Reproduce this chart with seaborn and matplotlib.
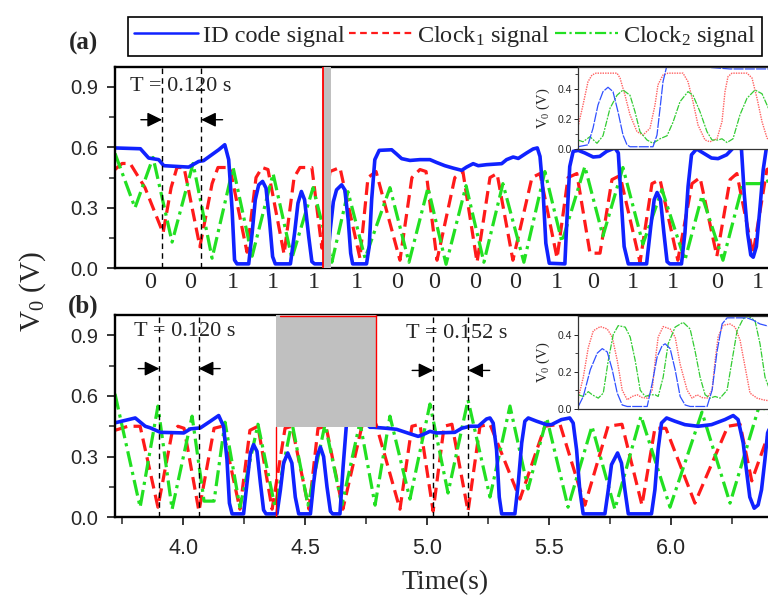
import numpy as np
import pandas as pd
import matplotlib
matplotlib.use("Agg")
import matplotlib.pyplot as plt
import seaborn as sns
from matplotlib.lines import Line2D
from matplotlib.patches import Rectangle

# ---------------- data (time in s, voltage in V) ----------------
# panel (a)
a_id_t = [3.720, 3.824, 3.858, 3.899, 3.920, 4.022, 4.063, 4.083, 4.145, 4.170, 4.186, 4.200, 4.210, 4.220,
          4.268, 4.282, 4.295, 4.309, 4.325, 4.339, 4.353, 4.366, 4.377, 4.439, 4.456, 4.470, 4.484, 4.497,
          4.514, 4.527, 4.538, 4.590, 4.603, 4.615, 4.628, 4.649, 4.662, 4.676, 4.686, 4.694, 4.751, 4.762,
          4.772, 4.785, 4.803, 4.854, 4.874, 4.895, 4.929, 4.970, 5.011, 5.038, 5.072, 5.106, 5.141, 5.161,
          5.188, 5.209, 5.243, 5.305, 5.325, 5.352, 5.373, 5.407, 5.434, 5.451, 5.462, 5.475, 5.486, 5.500,
          5.564, 5.571, 5.584, 5.598, 5.619, 5.646, 5.680, 5.707, 5.735, 5.769, 5.783, 5.793, 5.807, 5.824,
          5.899, 5.916, 5.930, 5.942, 5.956, 5.970, 5.983, 5.994, 6.042, 6.056, 6.069, 6.083, 6.104, 6.131,
          6.165, 6.192, 6.227, 6.254, 6.274, 6.288, 6.299, 6.313, 6.326, 6.336, 6.349, 6.363, 6.377, 6.390, 6.413]
a_id_v = [0.597, 0.593, 0.547, 0.539, 0.509, 0.502, 0.530, 0.534, 0.588, 0.613, 0.539, 0.290, 0.041, 0.022,
          0.022, 0.174, 0.340, 0.414, 0.431, 0.398, 0.240, 0.058, 0.022, 0.022, 0.174, 0.323, 0.381, 0.340,
          0.157, 0.033, 0.022, 0.022, 0.200, 0.330, 0.389, 0.414, 0.389, 0.240, 0.075, 0.022, 0.022, 0.108,
          0.340, 0.539, 0.585, 0.588, 0.567, 0.544, 0.535, 0.539, 0.539, 0.525, 0.509, 0.497, 0.486, 0.502,
          0.519, 0.509, 0.514, 0.519, 0.539, 0.552, 0.545, 0.572, 0.592, 0.597, 0.555, 0.373, 0.124, 0.025,
          0.022, 0.207, 0.505, 0.580, 0.585, 0.572, 0.552, 0.555, 0.580, 0.597, 0.572, 0.373, 0.108, 0.022,
          0.022, 0.207, 0.340, 0.376, 0.340, 0.174, 0.033, 0.022, 0.022, 0.174, 0.406, 0.563, 0.592, 0.572,
          0.547, 0.544, 0.563, 0.597, 0.618, 0.588, 0.373, 0.174, 0.066, 0.055, 0.108, 0.290, 0.489, 0.597, 0.615]

a_c1_t = [3.720, 3.749, 3.782, 3.843, 3.917, 3.950, 3.974, 4.003, 4.068, 4.118, 4.142, 4.191, 4.261, 4.298,
          4.323, 4.347, 4.413, 4.454, 4.478, 4.527, 4.568, 4.601, 4.642, 4.724, 4.757, 4.790, 4.888, 4.937,
          4.970, 4.995, 5.040, 5.113, 5.146, 5.204, 5.257, 5.286, 5.351, 5.429, 5.462, 5.532, 5.577, 5.613,
          5.667, 5.708, 5.757, 5.790, 5.872, 5.921, 5.954, 6.027, 6.085, 6.118, 6.187, 6.241, 6.269, 6.335,
          6.392, 6.413]
a_c1_v = [0.49, 0.52, 0.52, 0.40, 0.175, 0.40, 0.50, 0.50, 0.107, 0.42, 0.50, 0.50, 0.08, 0.45,
          0.50, 0.49, 0.07, 0.45, 0.50, 0.50, 0.10, 0.48, 0.50, 0.05, 0.45, 0.48, 0.04, 0.45,
          0.49, 0.48, 0.04, 0.45, 0.48, 0.03, 0.45, 0.47, 0.04, 0.45, 0.47, 0.05, 0.45, 0.47,
          0.075, 0.075, 0.44, 0.46, 0.03, 0.42, 0.44, 0.04, 0.42, 0.45, 0.06, 0.44, 0.47, 0.07,
          0.49, 0.50]

a_c2_t = [3.720, 3.802, 3.876, 3.954, 4.040, 4.118, 4.204, 4.282, 4.368, 4.445, 4.532, 4.609, 4.675, 4.745,
          4.847, 4.925, 5.003, 5.077, 5.159, 5.232, 5.310, 5.396, 5.482, 5.552, 5.646, 5.720, 5.802, 5.884,
          5.962, 6.056, 6.126, 6.212, 6.294, 6.363, 6.413]
a_c2_v = [0.57, 0.30, 0.55, 0.13, 0.52, 0.05, 0.50, 0.06, 0.47, 0.05, 0.40, 0.03, 0.38, 0.05,
          0.40, 0.03, 0.40, 0.02, 0.41, 0.03, 0.42, 0.03, 0.48, 0.13, 0.505, 0.16, 0.50, 0.12,
          0.39, 0.04, 0.36, 0.04, 0.42, 0.42, 0.44]

a_bits_t = [3.864, 4.027, 4.204, 4.368, 4.536, 4.712, 4.876, 5.028, 5.196, 5.359, 5.531, 5.679,
            5.843, 6.007, 6.187, 6.355]
a_bits = ["0", "0", "1", "1", "1", "1", "0", "0", "0", "0", "1", "0", "1", "1", "0", "1"]

# panel (b)
b_id_t = [3.720, 3.803, 3.844, 3.865, 3.906, 4.002, 4.029, 4.070, 4.111, 4.145, 4.165, 4.179, 4.189, 4.200,
          4.247, 4.261, 4.275, 4.288, 4.302, 4.316, 4.329, 4.339, 4.384, 4.398, 4.411, 4.428, 4.445, 4.459,
          4.473, 4.521, 4.534, 4.548, 4.562, 4.575, 4.589, 4.603, 4.612, 4.642, 4.655, 4.668, 4.690, 4.740,
          4.765, 4.779, 4.833, 4.874, 4.929, 4.963, 4.990, 5.011, 5.038, 5.113, 5.141, 5.175, 5.209, 5.243,
          5.257, 5.270, 5.284, 5.295, 5.305, 5.359, 5.373, 5.387, 5.400, 5.414, 5.448, 5.489, 5.509, 5.550,
          5.584, 5.598, 5.612, 5.625, 5.639, 5.728, 5.742, 5.755, 5.780, 5.796, 5.810, 5.824, 5.919, 5.933,
          5.946, 5.960, 5.981, 6.015, 6.056, 6.110, 6.165, 6.220, 6.254, 6.274, 6.295, 6.308, 6.322, 6.340,
          6.356, 6.370, 6.384, 6.395, 6.413]
b_id_v = [0.467, 0.491, 0.450, 0.442, 0.420, 0.417, 0.437, 0.442, 0.475, 0.503, 0.450, 0.285, 0.070, 0.017,
          0.017, 0.169, 0.318, 0.359, 0.326, 0.169, 0.036, 0.017, 0.017, 0.136, 0.268, 0.318, 0.268, 0.100,
          0.017, 0.017, 0.169, 0.300, 0.347, 0.300, 0.150, 0.030, 0.017, 0.017, 0.250, 0.450, 0.520, 0.480,
          0.445, 0.445, 0.440, 0.435, 0.413, 0.400, 0.413, 0.425, 0.417, 0.420, 0.440, 0.450, 0.450, 0.486,
          0.491, 0.466, 0.334, 0.100, 0.017, 0.017, 0.169, 0.367, 0.475, 0.491, 0.475, 0.458, 0.458, 0.483,
          0.491, 0.466, 0.334, 0.136, 0.017, 0.017, 0.136, 0.260, 0.318, 0.268, 0.136, 0.017, 0.017, 0.136,
          0.334, 0.466, 0.491, 0.475, 0.458, 0.450, 0.458, 0.483, 0.503, 0.483, 0.367, 0.235, 0.100, 0.045,
          0.061, 0.136, 0.285, 0.417, 0.470]

b_c1_t = [3.720, 3.773, 3.823, 3.896, 3.954, 3.978, 4.003, 4.064, 4.126, 4.159, 4.232, 4.273, 4.306, 4.364,
          4.417, 4.445, 4.515, 4.552, 4.585, 4.654, 4.732, 4.790, 4.888, 4.937, 4.970, 5.024, 5.069, 5.101,
          5.167, 5.216, 5.257, 5.380, 5.482, 5.544, 5.646, 5.741, 5.798, 5.880, 5.933, 5.978, 6.097, 6.232,
          6.282, 6.330, 6.413]
b_c1_v = [0.43, 0.45, 0.45, 0.05, 0.42, 0.45, 0.44, 0.03, 0.44, 0.45, 0.04, 0.43, 0.45, 0.04,
          0.44, 0.45, 0.04, 0.44, 0.45, 0.04, 0.45, 0.46, 0.04, 0.45, 0.46, 0.03, 0.45, 0.46,
          0.03, 0.45, 0.46, 0.09, 0.45, 0.46, 0.06, 0.45, 0.46, 0.06, 0.44, 0.44, 0.07, 0.45,
          0.46, 0.18, 0.46]

b_c2_t = [3.720, 3.823, 3.896, 3.954, 4.036, 4.085, 4.126, 4.171, 4.232, 4.306, 4.376, 4.445, 4.511, 4.581,
          4.650, 4.724, 4.786, 4.847, 4.929, 5.011, 5.085, 5.167, 5.257, 5.339, 5.413, 5.490, 5.577, 5.675,
          5.769, 5.876, 5.995, 6.126, 6.241, 6.363, 6.413]
b_c2_v = [0.61, 0.05, 0.55, 0.04, 0.50, 0.08, 0.08, 0.47, 0.05, 0.46, 0.05, 0.47, 0.06, 0.46,
          0.06, 0.47, 0.06, 0.50, 0.09, 0.56, 0.12, 0.58, 0.10, 0.55, 0.14, 0.49, 0.05, 0.45,
          0.04, 0.50, 0.05, 0.52, 0.07, 0.56, 0.50]

# insets (time in ms inside the zoom window)
ia_c1_t = [0, 10, 20, 28, 36, 78, 84, 94, 104, 118, 130, 144, 154, 160, 170, 180, 210, 220, 230, 240, 254,
           264, 278, 288, 294, 300, 308, 338, 348, 358, 368, 378, 388]
ia_c1_v = [0.15, 0.295, 0.45, 0.495, 0.507, 0.507, 0.475, 0.36, 0.23, 0.117, 0.095, 0.14, 0.295, 0.43,
           0.495, 0.507, 0.507, 0.45, 0.317, 0.162, 0.062, 0.05, 0.07, 0.184, 0.384, 0.484, 0.507, 0.507,
           0.475, 0.34, 0.184, 0.075, 0.05]
ia_c2_t = [0, 10, 24, 38, 50, 64, 78, 90, 104, 114, 124, 138, 150, 164, 178, 190, 204, 220, 230, 244, 258,
           268, 280, 288, 298, 310, 324, 338, 354, 368, 378, 388]
ia_c2_v = [0.062, 0.05, 0.084, 0.04, 0.09, 0.273, 0.36, 0.395, 0.36, 0.25, 0.117, 0.062, 0.04, 0.07, 0.09,
           0.18, 0.317, 0.384, 0.36, 0.25, 0.117, 0.062, 0.062, 0.07, 0.045, 0.07, 0.23, 0.34, 0.395, 0.37,
           0.295, 0.22]
ia_id_t = [0, 20, 30, 40, 50, 60, 70, 80, 90, 98, 104, 150, 158, 164, 170, 178, 204, 244, 264, 304, 388]
ia_id_v = [0.017, 0.03, 0.14, 0.295, 0.384, 0.413, 0.384, 0.25, 0.095, 0.03, 0.017, 0.017, 0.095, 0.27,
           0.45, 0.56, 0.62, 0.57, 0.545, 0.535, 0.535]

ib_c1_t = [0, 10, 20, 30, 44, 58, 68, 78, 88, 98, 108, 118, 128, 138, 148, 154, 160, 170, 184, 194, 204,
           218, 228, 238, 248, 258, 268, 274, 280, 290, 304, 314, 324, 334, 344, 358, 370, 388]
ib_c1_v = [0.057, 0.17, 0.33, 0.42, 0.443, 0.43, 0.386, 0.26, 0.10, 0.048, 0.066, 0.075, 0.06, 0.057, 0.10,
           0.26, 0.386, 0.443, 0.43, 0.386, 0.24, 0.10, 0.057, 0.075, 0.06, 0.057, 0.10, 0.26, 0.386, 0.45,
           0.457, 0.44, 0.37, 0.226, 0.084, 0.057, 0.048, 0.04]
ib_c2_t = [0, 10, 20, 28, 40, 50, 60, 70, 80, 94, 104, 114, 124, 134, 144, 154, 160, 170, 180, 194, 210,
           224, 234, 244, 254, 264, 274, 284, 298, 308, 318, 330, 340, 354, 364, 374, 388]
ib_c2_v = [0.075, 0.066, 0.092, 0.075, 0.057, 0.084, 0.26, 0.40, 0.448, 0.44, 0.386, 0.26, 0.10, 0.066,
           0.075, 0.075, 0.066, 0.17, 0.35, 0.44, 0.466, 0.43, 0.31, 0.17, 0.075, 0.057, 0.066, 0.057, 0.10,
           0.26, 0.42, 0.484, 0.50, 0.475, 0.35, 0.17, 0.07]
ib_id_t = [0, 10, 24, 38, 48, 58, 68, 78, 88, 98, 138, 148, 158, 168, 174, 184, 194, 204, 214, 224, 258,
           268, 278, 288, 298, 338, 350, 364, 388]
ib_id_v = [0.012, 0.066, 0.21, 0.30, 0.324, 0.306, 0.21, 0.084, 0.02, 0.012, 0.012, 0.137, 0.28, 0.34,
           0.35, 0.324, 0.21, 0.066, 0.02, 0.012, 0.012, 0.10, 0.31, 0.457, 0.49, 0.49, 0.478, 0.457, 0.44]

# annotation markers
a_period_t = [3.913, 4.073]
b_period1_t = [3.902, 4.063]
b_period2_t = [5.025, 5.168]
a_band = (4.5725, 4.6053)
b_box = (4.3816, 4.7885, 0.447)

labels = ["ID code signal", "Clock$_1$ signal", "Clock$_2$ signal"]

# ---------------- style ----------------
sns.set_style("ticks")
plt.rcParams["font.family"] = ["Liberation Sans", "DejaVu Sans"]
plt.rcParams["mathtext.fontset"] = "custom"
plt.rcParams["mathtext.rm"] = "Liberation Serif"
plt.rcParams["mathtext.it"] = "Liberation Serif:italic"
SERIF = ["Liberation Serif", "DejaVu Serif"]

BLUE = "#1022ff"
RED = "#ff1a1a"
GREEN = "#22e022"
DASH = [4, 2]
DASHDOT = [5, 1.6, 1, 1.6]

W, H = 768, 601
fig = plt.figure(figsize=(W / 100, H / 100), dpi=100)


def rect(l, t, r, b):
    return [l / W, 1 - b / H, (r - l) / W, (b - t) / H]


def draw(ax, t, v, color, dashes=None, lw=2.2, zorder=2, ls=None):
    df = pd.DataFrame({"t": t, "v": v})
    sns.lineplot(data=df, x="t", y="v", ax=ax, color=color, lw=lw, estimator=None,
                 sort=False, zorder=zorder)
    line = ax.lines[-1]
    if dashes is not None:
        line.set_dashes(dashes)
    if ls is not None:
        line.set_linestyle(ls)
    line.set_solid_joinstyle("round")
    return line


axA = fig.add_axes(rect(115, 66.7, 772, 268.3))
axB = fig.add_axes(rect(115, 315, 772, 517.3))

for ax, c1t, c1v, c2t, c2v, it, iv in [
    (axA, a_c1_t, a_c1_v, a_c2_t, a_c2_v, a_id_t, a_id_v),
    (axB, b_c1_t, b_c1_v, b_c2_t, b_c2_v, b_id_t, b_id_v),
]:
    draw(ax, c1t, c1v, RED, DASH, lw=2.3)
    draw(ax, c2t, c2v, GREEN, DASHDOT, lw=2.3)
    draw(ax, it, iv, BLUE, lw=2.6)
    ax.set_xlim(3.72, 6.413)
    ax.set_ylim(0, 1.0)
    ax.set_xlabel("")
    ax.set_ylabel("")
    ax.set_yticks([0, 0.3, 0.6, 0.9])
    ax.set_yticklabels(["0.0", "0.3", "0.6", "0.9"])
    ax.set_yticks([0.15, 0.45, 0.75], minor=True)
    for s in ax.spines.values():
        s.set_linewidth(1.7)
        s.set_color("black")
    ax.tick_params(axis="y", which="major", length=6, width=1.3, labelsize=14.5, pad=6, direction="out")
    ax.tick_params(axis="y", which="minor", length=4, width=1.1, direction="out")

# panel (a) bit labels
axA.set_xticks(a_bits_t)
axA.set_xticklabels(a_bits, fontfamily=SERIF, fontsize=17.5)
axA.tick_params(axis="x", which="both", length=0, pad=3)

# panel (b) time ticks
axB.set_xticks([4.0, 4.5, 5.0, 5.5, 6.0])
axB.set_xticklabels(["4.0", "4.5", "5.0", "5.5", "6.0"])
axB.set_xticks([3.75, 4.25, 4.75, 5.25, 5.75, 6.25], minor=True)
axB.tick_params(axis="x", which="major", length=6, width=1.3, labelsize=15.5, pad=9, direction="out")
axB.tick_params(axis="x", which="minor", length=5, width=1.1, direction="out")

# shaded regions
axA.axvspan(a_band[0], a_band[1], color="#c0c0c0", zorder=5, lw=0)
axA.axvline(a_band[0], color="red", lw=1.3, zorder=6)
axB.add_patch(Rectangle((b_box[0], b_box[2]), b_box[1] - b_box[0], 1.0 - b_box[2],
                        facecolor="#c0c0c0", edgecolor="none", zorder=5))
axB.plot([b_box[0] + 0.015, b_box[1]], [0.996, 0.996], color="red", lw=1.0, zorder=6)
axB.plot([b_box[1], b_box[1]], [b_box[2], 1.0], color="red", lw=1.0, zorder=6)
axB.plot([b_box[0], b_box[0]], [0, b_box[2]], color="red", lw=1.0, zorder=6)

ARROW = dict(arrowstyle="-|>,head_length=0.45,head_width=0.22", color="black", lw=1.0,
             mutation_scale=20, shrinkA=0, shrinkB=0)


def period(ax, t1, t2, yarr, text, xtext, ytext):
    for t in (t1, t2):
        ax.axvline(t, color="black", lw=1.0, ls=(0, (4, 3)), zorder=7)
    ax.annotate("", xy=(t1, yarr), xytext=(t1 - 0.087, yarr), arrowprops=ARROW, zorder=7)
    ax.annotate("", xy=(t2, yarr), xytext=(t2 + 0.088, yarr), arrowprops=ARROW, zorder=7)
    ax.text(xtext, ytext, text, fontfamily=SERIF, fontsize=16, ha="left", va="center", zorder=3)


period(axA, a_period_t[0], a_period_t[1], 0.737, "T = 0.120 s", 3.782, 0.90)
period(axB, b_period1_t[0], b_period1_t[1], 0.735, "T = 0.120 s", 3.797, 0.92)
period(axB, b_period2_t[0], b_period2_t[1], 0.726, "T = 0.152 s", 4.913, 0.91)

# insets
insA = fig.add_axes(rect(578, 66.7, 772, 149.3))
insB = fig.add_axes(rect(578.3, 316, 772, 408.7))
for ins, c1t, c1v, c2t, c2v, it, iv, ytop, minors in [
    (insA, ia_c1_t, ia_c1_v, ia_c2_t, ia_c2_v, ia_id_t, ia_id_v, 0.55, [0.1, 0.3, 0.5]),
    (insB, ib_c1_t, ib_c1_v, ib_c2_t, ib_c2_v, ib_id_t, ib_id_v, 0.5, [0.1, 0.3]),
]:
    ins.set_facecolor("white")
    draw(ins, c1t, c1v, "#ff6060", lw=1.0, ls=(0, (1, 0.8)))
    draw(ins, c2t, c2v, "#33cc33", lw=0.9, ls=(0, (5, 1, 1.5, 1)))
    draw(ins, it, iv, "#3050ff", lw=0.9, ls=(0, (8, 1)))
    ins.set_xlim(0, 388)
    ins.set_ylim(0, ytop)
    ins.set_xticks([])
    ins.set_xlabel("")
    ins.set_yticks([0, 0.2, 0.4])
    ins.set_yticklabels(["0.0", "0.2", "0.4"])
    ins.set_yticks(minors, minor=True)
    ins.tick_params(axis="y", which="major", length=3, width=0.7, labelsize=7.5, pad=1.5)
    ins.tick_params(axis="y", which="minor", length=2, width=0.6)
    ins.set_ylabel("V$_0$ (V)", fontfamily=SERIF, fontsize=10.5, labelpad=4)
    for s in ins.spines.values():
        s.set_linewidth(0.9)
        s.set_color("#333333")

# legend
handles = [Line2D([], [], color=BLUE, lw=1.8),
           Line2D([], [], color=RED, lw=1.6, dashes=[3, 2]),
           Line2D([], [], color=GREEN, lw=1.6, dashes=[5, 1.5, 1, 1.5])]
leg = fig.legend(handles, labels, loc="center", bbox_to_anchor=(445 / W, 1 - 36.5 / H), ncol=3,
                 frameon=True, fancybox=False, edgecolor="black", framealpha=1,
                 prop={"family": SERIF, "size": 17.5}, handlelength=2.6, handletextpad=0.2,
                 columnspacing=0.2, borderpad=0.28, borderaxespad=0)
leg.get_frame().set_linewidth(1.2)

# figure texts
fig.text(83 / W, 1 - 43 / H, "(a)", fontfamily=SERIF, fontsize=18, fontweight="bold", ha="center", va="center")
fig.text(83 / W, 1 - 306 / H, "(b)", fontfamily=SERIF, fontsize=18, fontweight="bold", ha="center", va="center")
fig.text(33 / W, 1 - 292 / H, "V$_0$ (V)", fontfamily=SERIF, fontsize=21, rotation=90, ha="center", va="center")
fig.text(445 / W, 1 - 583 / H, "Time(s)", fontfamily=SERIF, fontsize=20, ha="center", va="center")

fig.savefig("out.png", dpi=100)
